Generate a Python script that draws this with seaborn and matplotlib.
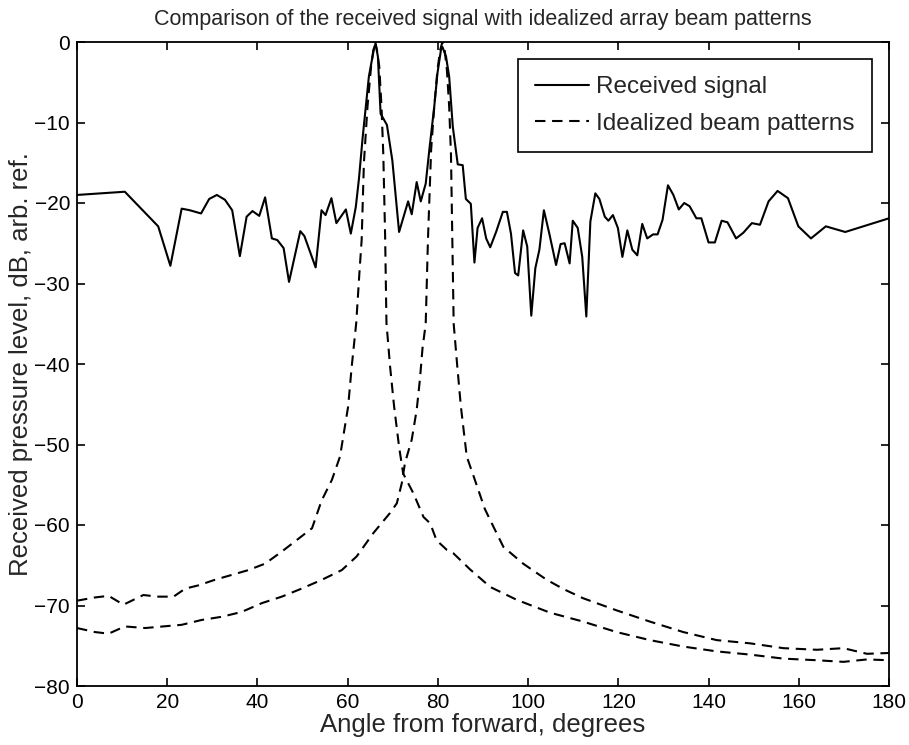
import numpy as np
import pandas as pd
import matplotlib
matplotlib.use("Agg")
import matplotlib.pyplot as plt
from matplotlib.lines import Line2D
import seaborn as sns

# ---- data ----
sig_angle = [0, 10.6, 18.0, 20.7, 23.2, 25.0, 27.5, 29.3, 31.0, 32.8, 34.4, 36.1, 37.6, 38.9,
             40.4, 41.7, 43.2, 44.4, 45.8, 47.0, 49.5, 50.4, 52.9, 54.2, 55.1, 56.4, 57.5,
             59.6, 60.7, 61.8, 62.5, 63.3, 64.7, 65.9, 66.2, 66.7, 67.3, 68.7, 69.9, 71.4,
             73.4, 74.2, 75.3, 76.2, 77.3, 78.1, 79.2, 79.9, 80.7, 81.0, 81.8, 82.5, 83.3,
             84.4, 85.5, 86.2, 87.3, 88.1, 88.8, 89.8, 90.7, 91.6, 92.9, 94.4, 95.3, 96.2,
             97.1, 97.8, 98.9, 99.8, 100.7, 101.6, 102.5, 103.5, 104.7, 106.2, 107.2, 108.1,
             109.2, 109.9, 111.0, 112.0, 112.9, 113.8, 114.9, 115.8, 117.0, 117.8, 118.8,
             119.9, 120.9, 122.0, 123.1, 124.2, 125.3, 126.4, 127.7, 128.7, 129.8, 131.0,
             132.2, 133.4, 134.6, 135.8, 137.3, 138.4, 140.0, 141.4, 142.9, 144.2, 146.1,
             147.7, 149.6, 151.4, 153.3, 155.3, 157.6, 159.9, 162.7, 166.0, 170.3, 180.0]
sig_db = [-19.0, -18.6, -22.9, -27.8, -20.7, -20.9, -21.3, -19.5, -19.0, -19.6, -20.9, -26.6,
          -21.7, -21.0, -21.6, -19.3, -24.4, -24.6, -25.6, -29.8, -23.5, -24.1, -28.0, -20.9,
          -21.5, -19.4, -22.5, -20.8, -23.8, -20.5, -17.0, -12.0, -4.3, -0.6, -0.3, -1.8,
          -8.9, -10.3, -14.7, -23.6, -19.8, -21.4, -17.4, -19.8, -17.6, -13.4, -8.0, -3.9,
          -0.9, -0.6, -1.8, -4.3, -10.5, -15.2, -15.3, -19.5, -20.1, -27.4, -23.1, -21.9,
          -24.4, -25.5, -23.6, -21.1, -21.1, -23.8, -28.7, -29.0, -23.4, -25.4, -34.0,
          -28.1, -25.8, -20.9, -23.8, -27.7, -25.1, -25.0, -27.5, -22.2, -23.1, -26.7,
          -34.1, -22.3, -18.8, -19.5, -21.7, -22.2, -21.5, -23.1, -26.7, -23.4, -25.8,
          -26.5, -22.6, -24.4, -23.9, -23.9, -22.1, -17.8, -19.0, -20.8, -20.0, -20.4,
          -21.9, -21.9, -24.9, -24.9, -22.2, -22.4, -24.4, -23.7, -22.5, -22.7, -19.8,
          -18.5, -19.4, -22.9, -24.4, -22.9, -23.6, -21.9]

beam1_angle = [0, 4, 7, 10.3, 12.5, 14.7, 18, 21.4, 24, 26.9, 30.6, 34.3, 38, 41.7, 45.4,
               49.1, 52.1, 54.2, 56.5, 58.3, 60.1, 60.9, 61.9, 62.6, 63.1, 63.6, 64.4, 65.2,
               65.7, 66.1, 66.5, 67.0, 67.5, 67.9, 68.3, 68.6, 69.4, 70.3, 71.4, 72.3, 74.6,
               76.8, 78.3, 79.7, 82, 83.4, 87.1, 91.6, 97.5, 104.9, 112.2, 119.6, 127, 134.4,
               141.8, 149.2, 156.6, 164, 169.9, 175.1, 180]
beam1_db = [-69.4, -69.0, -68.8, -69.9, -69.3, -68.7, -68.9, -68.9, -67.9, -67.5, -66.8,
            -66.2, -65.6, -64.8, -63.3, -61.7, -60.4, -57.0, -54.4, -51.5, -45.3, -40.3,
            -34.9, -28.7, -24.6, -15.0, -8.0, -3.0, -1.0, 0.0, -1.0, -3.0, -8.0, -14.0,
            -24.0, -34.9, -40.3, -45.3, -50.3, -53.6, -56.1, -59.0, -59.8, -61.9, -63.1,
            -63.5, -65.5, -67.7, -69.3, -70.9, -72.0, -73.3, -74.3, -75.1, -75.7, -76.1,
            -76.6, -76.8, -77.0, -76.7, -76.8]

beam2_angle = [0, 4, 7, 10.6, 15.1, 19.1, 23.2, 27.6, 32.1, 36.5, 41, 45.4, 49.8, 54.3, 58.7,
               62, 65.7, 69.4, 70.9, 72, 72.7, 74.2, 75.3, 76.0, 76.6, 77.3, 77.8, 78.5, 79.2,
               79.9, 80.5, 81.0, 81.5, 82.0, 82.5, 82.9, 83.2, 83.5, 84.3, 85.1, 86.4, 88.2,
               90.4, 92.3, 94.5, 98.9, 104.1, 108, 112.2, 119.6, 127, 134.4, 141.8, 149.2,
               156.6, 164, 169.9, 175.1, 180]
beam2_db = [-72.8, -73.3, -73.5, -72.6, -72.8, -72.6, -72.4, -71.8, -71.4, -70.8, -69.7,
            -68.9, -67.9, -66.8, -65.6, -63.9, -61.0, -58.5, -57.3, -54.8, -52.3, -49.4,
            -45.7, -42.0, -38.0, -35.0, -24.5, -13.4, -8.0, -3.5, -1.0, 0.0, -1.0, -3.5,
            -8.0, -14.0, -24.5, -35.0, -40.3, -45.3, -51.5, -54.4, -58.0, -60.2, -62.7,
            -64.8, -66.8, -68.0, -69.1, -70.6, -72.0, -73.3, -74.3, -74.7, -75.3, -75.5,
            -75.3, -76.0, -75.9]

x_ticks = [0, 20, 40, 60, 80, 100, 120, 140, 160, 180]
y_ticks = [0, -10, -20, -30, -40, -50, -60, -70, -80]

# ---- style ----
sns.set_theme(style="ticks")
plt.rcParams['font.family'] = ['Liberation Sans', 'DejaVu Sans']

fig = plt.figure(figsize=(9.09, 7.45), dpi=100)
ax = fig.add_axes([77 / 909, 1 - 686 / 745, 812 / 909, 644 / 745])

df_sig = pd.DataFrame({"angle": sig_angle, "db": sig_db})
df_b1 = pd.DataFrame({"angle": beam1_angle, "db": beam1_db})
df_b2 = pd.DataFrame({"angle": beam2_angle, "db": beam2_db})

dash = (0, (5.0, 3.2))
sns.lineplot(data=df_b1, x="angle", y="db", ax=ax, color="black", lw=1.5,
             linestyle=dash, sort=False, estimator=None)
sns.lineplot(data=df_b2, x="angle", y="db", ax=ax, color="black", lw=1.5,
             linestyle=dash, sort=False, estimator=None)
sns.lineplot(data=df_sig, x="angle", y="db", ax=ax, color="black", lw=1.5,
             sort=False, estimator=None)

ax.set_xlim(0, 180)
ax.set_ylim(-80, 0)
ax.set_xticks(x_ticks)
ax.set_yticks(y_ticks)
ax.tick_params(direction="in", length=6, width=1.2, top=True, right=True,
               labelsize=15, colors="black", pad=5)
for s in ax.spines.values():
    s.set_visible(True)
    s.set_linewidth(1.3)
    s.set_color("black")

ax.set_title("Comparison of the received signal with idealized array beam patterns",
             fontsize=15.5, pad=12)
ax.set_xlabel("Angle from forward, degrees", fontsize=18.5, labelpad=1)
ax.set_ylabel("Received pressure level, dB, arb. ref.", fontsize=18.5, labelpad=1)

handles = [Line2D([], [], color="black", lw=1.5),
           Line2D([], [], color="black", lw=1.5, linestyle=dash)]
leg = ax.legend(handles, ["Received signal", "Idealized beam patterns"],
                loc="lower right", bbox_to_anchor=(0.9787, 1 - (152 - 42) / 644),
                borderaxespad=0, fontsize=17.5,
                frameon=True, fancybox=False, edgecolor="black", framealpha=1,
                borderpad=0.7, handlelength=2.2, handletextpad=0.3, labelspacing=0.6)
leg.get_frame().set_linewidth(1.2)

fig.savefig("out.png", dpi=100)
